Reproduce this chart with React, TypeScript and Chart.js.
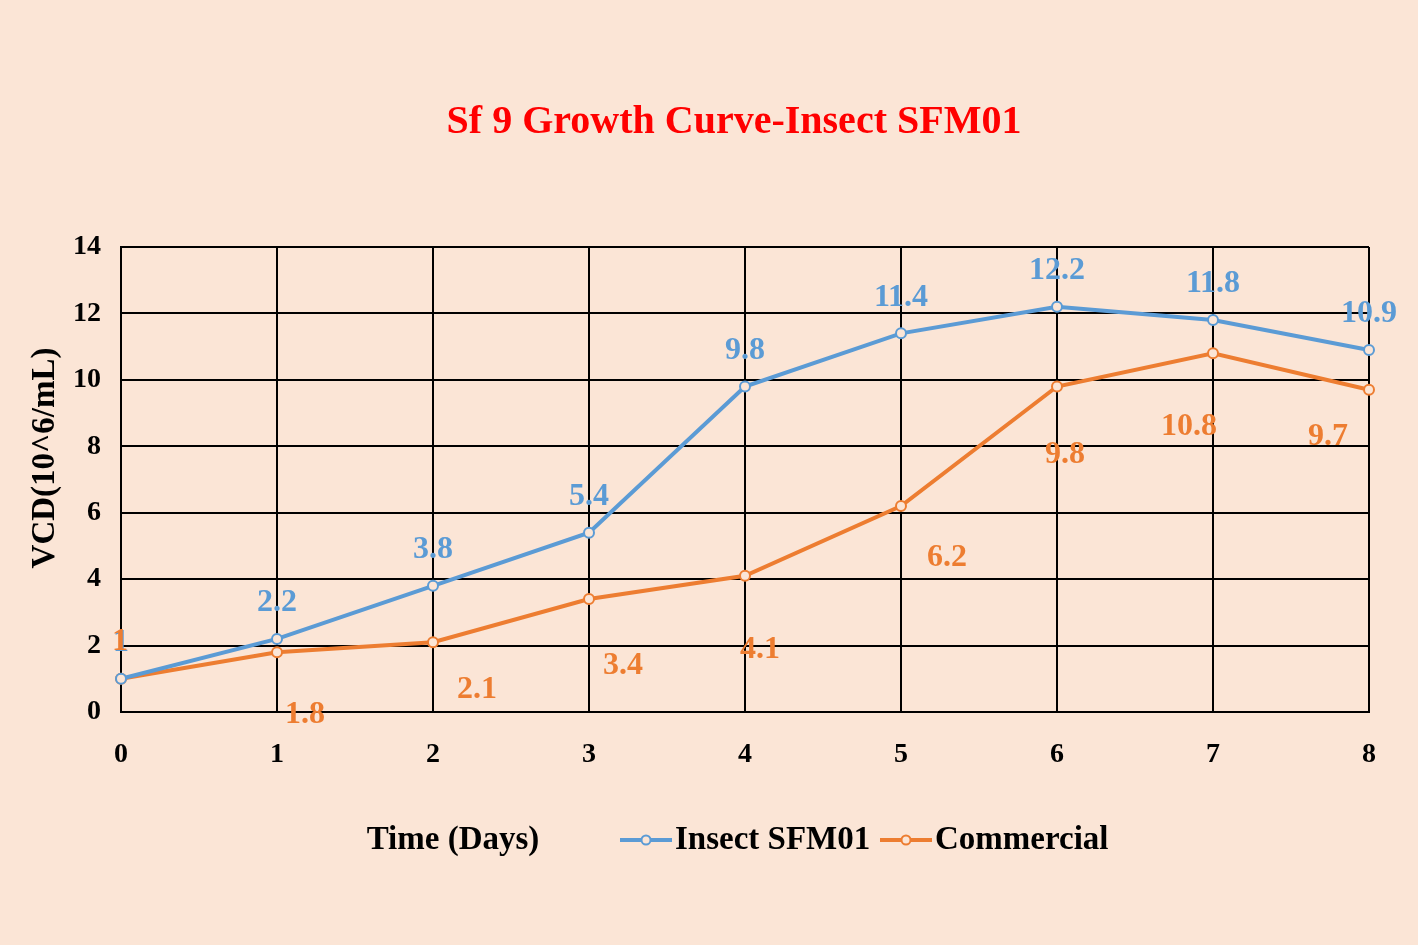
import React, { useEffect, useRef } from "react";
import { Chart, registerables } from "chart.js";

Chart.register(...registerables);

const days = ["0", "1", "2", "3", "4", "5", "6", "7", "8"];
const insectSFM01 = [1, 2.2, 3.8, 5.4, 9.8, 11.4, 12.2, 11.8, 10.9];
const commercial = [1, 1.8, 2.1, 3.4, 4.1, 6.2, 9.8, 10.8, 9.7];
const seriesNames = ["Insect SFM01", "Commercial"];
const titleText = "Sf 9 Growth Curve-Insect SFM01";
const xTitle = "Time (Days)";
const yTitle = "VCD(10^6/mL)";

// label offsets (pixels) relative to each point, as placed in the original
const insectLabelOffsets = insectSFM01.map(() => [0, -36]);
const commercialLabelOffsets = [
  [-1, -37], [28, 63], [44, 47], [34, 67], [15, 74], [46, 52], [8, 68], [-24, 73], [-41, 47],
];

const BG = "#FBE5D6";
const BLUE = "#5B9BD5";
const ORANGE = "#ED7D31";
const FONT = '"Liberation Serif", "Times New Roman", serif';

export default function App() {
  const ref = useRef<HTMLCanvasElement>(null);
  useEffect(() => {
    document.body.style.margin = "0";
    document.body.style.background = BG;
    const canvas = ref.current!;
    const offsets = [insectLabelOffsets, commercialLabelOffsets];

    const decor = {
      id: "decor",
      beforeDraw(chart: any) {
        const ctx = chart.ctx;
        ctx.save();
        ctx.fillStyle = BG;
        ctx.fillRect(0, 0, chart.width, chart.height);
        ctx.restore();
      },
      afterDatasetsDraw(chart: any) {
        const ctx = chart.ctx;
        ctx.save();
        ctx.font = `bold 32px ${FONT}`;
        ctx.textAlign = "center";
        ctx.textBaseline = "middle";
        chart.data.datasets.forEach((ds: any, di: number) => {
          const meta = chart.getDatasetMeta(di);
          ctx.fillStyle = ds.borderColor;
          meta.data.forEach((el: any, i: number) => {
            const o = offsets[di][i];
            ctx.fillText(String(ds.data[i]), el.x + o[0], el.y + o[1]);
          });
        });
        ctx.restore();
      },
      afterDraw(chart: any) {
        const ctx = chart.ctx;
        ctx.save();
        // title
        ctx.fillStyle = "#FF0000";
        ctx.font = `bold 40px ${FONT}`;
        ctx.textAlign = "center";
        ctx.textBaseline = "middle";
        ctx.fillText(titleText, 734, 123);
        // y title
        ctx.fillStyle = "#000";
        ctx.font = `bold 33px ${FONT}`;
        ctx.save();
        ctx.translate(45, 458);
        ctx.rotate(-Math.PI / 2);
        ctx.fillText(yTitle, 0, 0);
        ctx.restore();
        // x title
        ctx.fillText(xTitle, 453, 840);
        // legend
        const items = [
          { name: seriesNames[0], color: BLUE, x: 620 },
          { name: seriesNames[1], color: ORANGE, x: 880 },
        ];
        items.forEach((it) => {
          ctx.strokeStyle = it.color;
          ctx.lineWidth = 4;
          ctx.beginPath();
          ctx.moveTo(it.x, 840);
          ctx.lineTo(it.x + 52, 840);
          ctx.stroke();
          ctx.lineWidth = 2;
          ctx.fillStyle = BG;
          ctx.beginPath();
          ctx.arc(it.x + 26, 840, 4.5, 0, Math.PI * 2);
          ctx.fill();
          ctx.stroke();
          ctx.fillStyle = "#000";
          ctx.textAlign = "left";
          ctx.fillText(it.name, it.x + 55, 840);
        });
        ctx.restore();
      },
    };

    const chart = new Chart(canvas, {
      type: "line",
      data: {
        labels: days,
        datasets: [
          {
            label: seriesNames[0],
            data: insectSFM01,
            borderColor: BLUE,
            backgroundColor: BG,
            borderWidth: 4,
            pointRadius: 5,
            pointBorderWidth: 2,
            pointBackgroundColor: BG,
            pointBorderColor: BLUE,
            tension: 0,
          },
          {
            label: seriesNames[1],
            data: commercial,
            borderColor: ORANGE,
            backgroundColor: BG,
            borderWidth: 4,
            pointRadius: 5,
            pointBorderWidth: 2,
            pointBackgroundColor: BG,
            pointBorderColor: ORANGE,
            tension: 0,
          },
        ],
      },
      options: {
        responsive: false,
        animation: false,
        layout: { padding: { left: 0, top: 247, right: 49, bottom: 945 - 712 - 70 } },
        plugins: { legend: { display: false }, title: { display: false }, tooltip: { enabled: false } },
        scales: {
          x: {
            type: "category",
            offset: false,
            grid: { color: "#000", lineWidth: 2, drawTicks: false },
            border: { color: "#000", width: 2 },
            ticks: { color: "#000", font: { family: FONT, size: 28, weight: "bold" }, padding: 26, maxRotation: 0 },
            afterFit(scale: any) { scale.height = 70; },
          },
          y: {
            min: 0,
            max: 14,
            grid: { color: "#000", lineWidth: 2, drawTicks: false },
            border: { color: "#000", width: 2 },
            ticks: { stepSize: 2, color: "#000", font: { family: FONT, size: 28, weight: "bold" }, padding: 20 },
            afterFit(scale: any) { scale.width = 121; },
          },
        },
      },
      plugins: [decor],
    } as any);
    return () => chart.destroy();
  }, []);
  return <canvas ref={ref} width={1418} height={945} style={{ display: "block" }} />;
}
